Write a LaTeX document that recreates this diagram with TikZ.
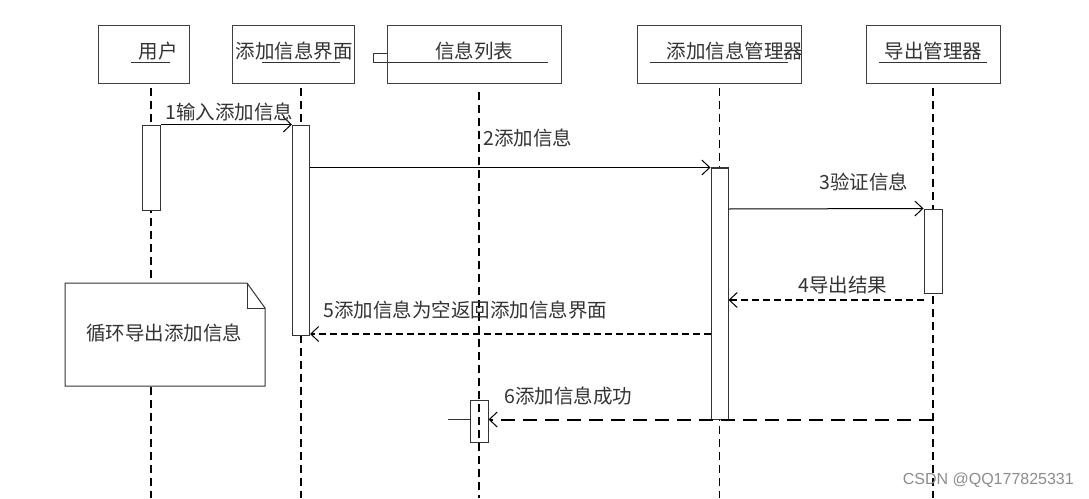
\documentclass[tikz,border=0pt]{standalone}
\usepackage{fontspec}
\setmainfont{Noto Sans CJK SC}
\newfontfamily\wmfont{Liberation Sans}
\usetikzlibrary{arrows.meta}
\begin{document}
\begin{tikzpicture}[x=1pt,y=-1pt,
  objbox/.style={draw=black!75, line width=1pt, minimum height=58pt, inner sep=0pt},
  title/.style={font=\fontsize{19.5}{20}\selectfont, text=black!80, inner sep=0pt},
  uline/.style={draw=black!80, line width=1pt},
  life/.style={draw=black, line width=1.5pt, dash pattern=on 8pt off 5pt},
  actbox/.style={draw=black!80, fill=white, line width=1pt, minimum width=18pt, inner sep=0pt},
  msg/.style={draw=black, line width=1pt, -{Straight Barb[length=8pt,width=15pt,line width=1pt]}},
  ret/.style={msg, line width=1.5pt, dash pattern=on 7pt off 4pt},
  retlong/.style={msg, line width=2pt, dash pattern=on 14pt off 8pt},
  lbl/.style={font=\fontsize{19.5}{20}\selectfont, text=black!80, inner sep=0pt},
  notebox/.style={draw=black!80, fill=white, line width=1pt, line join=miter}
]
\useasboundingbox (0,0) rectangle (1089,498);
\coordinate (bot) at (0,498);

% object boxes
\node[objbox, minimum width=91pt]  (u)   at (143.5,54) {};
\node[objbox, minimum width=122pt] (ui)  at (293,54)   {};
\node[objbox, minimum width=174pt] (lst) at (474,54)   {};
\node[objbox, minimum width=164pt] (mgr) at (719,54)   {};
\node[objbox, minimum width=134pt] (exp) at (933,54)   {};

\node[title] (tu)   at (158,51)   {用户};
\node[title] (tui)  at (294,51)   {添加信息界面};
\node[title] (tlst) at (474,51)   {信息列表};
\node[title] (tmgr) at (735,51)   {添加信息管理器};
\node[title] (texp) at (933.5,51) {导出管理器};

% underlines of the object names
\draw[uline] (131,62) -- (170,62);
\draw[uline] (262,62) -- (340,62);
\draw[uline] (373,62) -- (548,62);
\draw[uline] (373,62) -- (373,53) -- (lst.west |- 0,53);
\draw[uline] (650,62) -- (788,62);
\draw[uline] (879,62) -- (987,62);

% lifeline positions
\coordinate (x1) at (151,0);
\coordinate (x2) at (301,0);
\coordinate (x3) at (479,0);
\coordinate (x4) at (719.5,0);
\coordinate (x5) at (933,0);

% lifelines
\draw[life] (x1 |- 0,88) -- (x1 |- bot);
\draw[life] (x2 |- 0,88) -- (x2 |- bot);
\draw[life] (x3 |- 0,92) -- (x3 |- bot);
\draw[life] (x4 |- 0,88) -- (x4 |- bot);
\draw[life] (x5 |- 0,88) -- (x5 |- bot);

% activation bars
\node[actbox, minimum height=85pt]  (a1) at (151,167.5) {};
\node[actbox, minimum width=17pt, minimum height=210pt] (a2) at (301,230) {};
\node[actbox, minimum width=17pt, minimum height=251pt] (a3) at (719.5,293.5) {};
\node[actbox, minimum height=84pt]  (a4) at (933,251) {};
\node[actbox, fill=none, minimum height=42pt]  (a5) at (479,421) {};

% note
\draw[notebox] (65,283) -- (247,283) -- (265,308) -- (265,386) -- (65,386) -- cycle;
\draw[notebox, fill=none] (247,283) -- (247,308) -- (265,308);
\node[lbl] (note) at (164,333) {循环导出添加信息};

% messages
\coordinate (m4) at (0,300);
\coordinate (stub) at (448,419);
\draw[msg] (a1.north east) -- (a2.north west);
\draw[msg] (a2.east |- a3.north) -- (a3.north west);
\draw[uline] (a3.north west) -- (a3.north east);
\draw[msg] (a3.east |- 0,209) -- (a4.north west);
\draw[ret] (a4.west |- m4) -- (a3.east |- m4);
\draw[ret] (a3.west |- 0,334) -- (a2.east |- 0,334);
\draw[retlong] (x5 |- a3.south) -- (a5.east |- a3.south);
\draw[uline] (stub) -- (a5.west |- stub);

\node[lbl, anchor=west] (l1) at (165,112) {1输入添加信息};
\node[lbl] (l2) at (528,138) {2添加信息};
\node[lbl] (l3) at (864,182) {3验证信息};
\node[lbl] (l4) at (843,285) {4导出结果};
\node[lbl, anchor=west] (l5) at (323,310) {5添加信息为空返回添加信息界面};
\node[lbl, anchor=west] (l6) at (504,396) {6添加信息成功};

% watermark
\node[font=\wmfont\fontsize{16}{18}\selectfont, text=black!45, anchor=east, inner sep=0pt] (wm) at (1074,480) {CSDN @QQ177825331};
\end{tikzpicture}
\end{document}
